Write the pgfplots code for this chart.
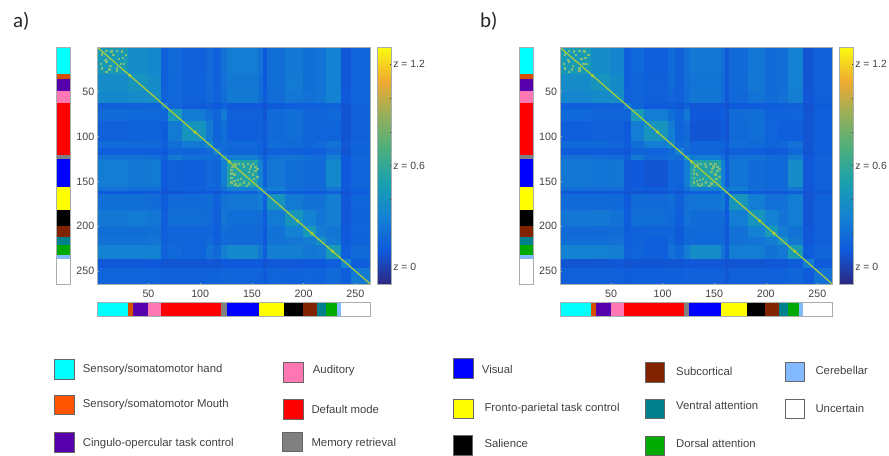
\documentclass[border=0pt]{standalone}
\usepackage{fontspec}
\setmainfont{Liberation Sans}
\newfontfamily\panelfont{Carlito}
\usepackage{pgfplots}
\pgfplotsset{compat=1.18}
\definecolor{nHand}{RGB}{0,255,255}
\definecolor{nMouth}{RGB}{214,80,0}
\definecolor{nMouthL}{RGB}{255,85,0}
\definecolor{nCO}{RGB}{85,0,170}
\definecolor{nAud}{RGB}{255,120,180}
\definecolor{nDMN}{RGB}{255,0,0}
\definecolor{nMem}{RGB}{128,128,128}
\definecolor{nVis}{RGB}{0,0,255}
\definecolor{nFP}{RGB}{255,255,0}
\definecolor{nSal}{RGB}{0,0,0}
\definecolor{nSub}{RGB}{130,35,0}
\definecolor{nVA}{RGB}{0,128,140}
\definecolor{nDA}{RGB}{0,170,0}
\definecolor{nCer}{RGB}{130,185,255}
\definecolor{nUnc}{RGB}{255,255,255}
\definecolor{framegray}{RGB}{165,175,175}
\definecolor{txt}{RGB}{65,65,65}
\definecolor{speck}{RGB}{125,190,120}
\definecolor{diag}{RGB}{172,205,55}
\def\xs{0.5,30.5,49.5,62.5,69.5,82.5,105.5,112.5,120.5,126.5,156.5,160.5,164.5,182.5,199.5,212.5,221.5,236.5,246.5,264.5}
\newcommand\mrow[2]{\foreach \xx [count=\i from 0] in \xs {\pgfmathtruncatemacro\j{min(\i,18)}\pgfmathsetmacro\vv{{#2}[\j]}\xdef\coordsbuf{\coordsbuf (\xx,#1) [\vv]}}}
% panel a: one row for each band of nodes, z values
\gdef\coordsbuf{}
\mrow{0.5}{.46,.36,.33,.13,.18,.13,.18,.14,.22,.27,.22,.10,.20,.25,.20,.22,.30,.09,.15}
\mrow{30.5}{.36,.42,.36,.13,.17,.14,.18,.14,.21,.25,.20,.10,.20,.26,.20,.22,.30,.09,.15}
\mrow{49.5}{.33,.36,.38,.14,.17,.14,.17,.14,.20,.26,.20,.10,.19,.24,.21,.23,.30,.10,.15}
\mrow{62.5}{.13,.13,.14,.28,.16,.11,.12,.10,.14,.10,.10,.07,.11,.12,.12,.13,.14,.08,.13}
\mrow{69.5}{.18,.17,.17,.16,.45,.26,.20,.16,.26,.13,.14,.08,.18,.20,.16,.16,.17,.08,.13}
\mrow{82.5}{.13,.14,.14,.11,.26,.42,.26,.15,.20,.12,.13,.09,.18,.20,.16,.15,.15,.08,.13}
\mrow{105.5}{.18,.18,.17,.12,.20,.26,.35,.18,.20,.17,.15,.10,.20,.18,.16,.18,.22,.09,.15}
\mrow{112.5}{.12,.12,.12,.10,.16,.15,.18,.30,.18,.16,.14,.08,.14,.13,.12,.12,.18,.08,.14}
\mrow{120.5}{.22,.21,.20,.14,.26,.20,.20,.18,.42,.28,.22,.12,.22,.23,.20,.18,.28,.10,.16}
\mrow{126.5}{.27,.25,.26,.10,.13,.12,.17,.16,.28,.54,.30,.13,.24,.20,.18,.18,.34,.10,.15}
\mrow{156.5}{.22,.20,.20,.10,.14,.13,.15,.14,.22,.30,.42,.22,.28,.20,.18,.18,.24,.10,.14}
\mrow{160.5}{.10,.10,.10,.07,.08,.09,.10,.08,.12,.13,.22,.30,.12,.11,.10,.10,.12,.07,.10}
\mrow{164.5}{.20,.20,.19,.11,.18,.18,.20,.14,.22,.24,.28,.12,.42,.26,.22,.22,.28,.09,.15}
\mrow{182.5}{.25,.26,.24,.12,.20,.20,.18,.13,.23,.20,.20,.11,.26,.42,.30,.24,.28,.09,.14}
\mrow{199.5}{.20,.20,.21,.12,.16,.16,.16,.12,.20,.18,.18,.10,.22,.30,.45,.27,.24,.10,.15}
\mrow{212.5}{.22,.22,.23,.13,.16,.15,.18,.12,.18,.18,.18,.10,.22,.24,.27,.40,.26,.10,.14}
\mrow{221.5}{.30,.30,.30,.14,.17,.15,.22,.18,.28,.34,.24,.12,.28,.28,.24,.26,.46,.12,.18}
\mrow{236.5}{.09,.09,.10,.08,.08,.08,.09,.08,.10,.10,.10,.07,.09,.09,.10,.10,.12,.30,.12}
\mrow{246.5}{.15,.15,.15,.13,.13,.13,.15,.14,.16,.15,.14,.10,.15,.14,.15,.14,.18,.12,.26}
\mrow{264.5}{.15,.15,.15,.13,.13,.13,.15,.14,.16,.15,.14,.10,.15,.14,.15,.14,.18,.12,.26}
\global\let\coordsA\coordsbuf
% panel b
\gdef\coordsbuf{}
\mrow{0.5}{.46,.36,.32,.12,.17,.12,.17,.13,.21,.25,.20,.09,.18,.24,.18,.20,.30,.08,.13}
\mrow{30.5}{.36,.42,.35,.12,.16,.13,.17,.13,.20,.23,.19,.09,.18,.25,.18,.20,.29,.08,.13}
\mrow{49.5}{.32,.35,.38,.13,.16,.13,.16,.13,.19,.24,.19,.09,.17,.22,.19,.21,.28,.09,.13}
\mrow{62.5}{.12,.12,.13,.27,.15,.10,.11,.09,.13,.09,.09,.07,.10,.11,.11,.12,.13,.07,.11}
\mrow{69.5}{.17,.16,.16,.15,.45,.27,.20,.15,.26,.10,.12,.08,.19,.20,.14,.14,.15,.08,.12}
\mrow{82.5}{.12,.13,.13,.10,.27,.42,.27,.15,.18,.08,.11,.08,.18,.20,.15,.12,.12,.08,.12}
\mrow{105.5}{.17,.17,.16,.11,.20,.27,.35,.18,.20,.16,.15,.10,.20,.18,.15,.17,.21,.08,.13}
\mrow{112.5}{.11,.11,.11,.09,.15,.15,.18,.30,.18,.15,.13,.08,.13,.12,.11,.11,.17,.08,.12}
\mrow{120.5}{.21,.20,.19,.13,.26,.18,.20,.18,.42,.27,.21,.11,.21,.22,.18,.17,.27,.09,.14}
\mrow{126.5}{.25,.23,.24,.09,.10,.08,.16,.15,.27,.54,.30,.12,.23,.19,.17,.17,.36,.09,.13}
\mrow{156.5}{.20,.19,.19,.09,.12,.11,.15,.13,.21,.30,.42,.22,.27,.19,.17,.17,.23,.09,.13}
\mrow{160.5}{.09,.09,.09,.07,.08,.08,.10,.08,.11,.12,.22,.30,.11,.10,.09,.09,.11,.07,.09}
\mrow{164.5}{.18,.18,.17,.10,.19,.18,.20,.13,.21,.23,.27,.11,.42,.27,.21,.21,.27,.08,.13}
\mrow{182.5}{.24,.25,.22,.11,.20,.20,.18,.12,.22,.19,.19,.10,.27,.42,.30,.23,.27,.08,.13}
\mrow{199.5}{.18,.18,.19,.11,.14,.15,.15,.11,.18,.17,.17,.09,.21,.30,.45,.27,.22,.09,.13}
\mrow{212.5}{.20,.20,.21,.12,.14,.12,.17,.11,.17,.17,.17,.09,.21,.23,.27,.40,.25,.09,.13}
\mrow{221.5}{.30,.29,.28,.13,.15,.12,.21,.17,.27,.36,.23,.11,.27,.27,.22,.25,.46,.11,.16}
\mrow{236.5}{.08,.08,.09,.07,.08,.08,.08,.08,.09,.09,.09,.07,.08,.08,.09,.09,.11,.28,.11}
\mrow{246.5}{.13,.13,.13,.11,.12,.12,.13,.12,.14,.13,.13,.09,.13,.13,.13,.13,.16,.11,.22}
\mrow{264.5}{.13,.13,.13,.11,.12,.12,.13,.12,.14,.13,.13,.09,.13,.13,.13,.13,.16,.11,.22}
\global\let\coordsB\coordsbuf
% speckled nodes inside the hand and visual blocks and bright spots on the diagonal
\def\specks{(5,8)(9,4)(14,5)(8,14)(19,4)(4,19)(24,5)(5,24)(13,21)(21,13)(25,12)(12,25)(19,26)(26,19)(28,9)(9,28)(16,9)(9,16)(23,19)(19,23)
(131,134)(134,131)(137,130)(130,137)(141,130)(130,141)(146,130)(130,146)(151,130)(130,151)(153,134)(134,153)(148,136)(136,148)(133,142)(142,133)(133,149)(149,133)(139,147)(147,139)(142,151)(151,142)(147,152)(152,147)(138,153)(153,138)(136,155)(155,136)(145,155)(155,145)}
\def\spots{(32,32)(95,95)(128,128)(194,194)(208,208)(228,228)}
\pgfplotsset{
  colormap={parula}{rgb255=(45,40,130) rgb255=(15,90,220) rgb255=(20,130,210) rgb255=(25,160,175) rgb255=(75,175,125) rgb255=(150,175,90) rgb255=(240,170,50) rgb255=(250,250,15)},
  every axis/.append style={scale only axis, axis line style={framegray,line width=0.6pt}},
  barframe/.style={xmin=0.5,xmax=264.5,ymin=0,ymax=1,ticks=none,axis on top},
}
\newcommand\hband[3]{\addplot[fill=#1,draw=none,forget plot] coordinates {(#2,0)(#3,0)(#3,1)(#2,1)} --cycle;}
\newcommand\vband[3]{\addplot[fill=#1,draw=none,forget plot] coordinates {(0,#2)(1,#2)(1,#3)(0,#3)} --cycle;}
\newcommand\bands[1]{#1{nHand}{0.5}{30.5}#1{nMouth}{30.5}{35.5}#1{nCO}{35.5}{49.5}#1{nAud}{49.5}{62.5}#1{nDMN}{62.5}{120.5}#1{nMem}{120.5}{125.5}#1{nVis}{125.5}{156.5}#1{nFP}{156.5}{181.5}#1{nSal}{181.5}{199.5}#1{nSub}{199.5}{212.5}#1{nVA}{212.5}{221.5}#1{nDA}{221.5}{232.5}#1{nCer}{232.5}{236.5}#1{nUnc}{236.5}{264.5}}
\newcommand\panel[3]{%
 \begin{axis}[at={(#1bp,172bp)},anchor=south west,width=#2bp,height=236.7bp,
   xmin=0.5,xmax=264.5,ymin=0.5,ymax=264.5,y dir=reverse,axis on top,
   xtick={50,100,150,200,250},xticklabels={50,100,150,200,250},
   ytick={50,100,150,200,250},yticklabels={50,100,150,200,250},
   tick pos=left,tick align=inside,major tick length=1.5bp,tick style={framegray,line width=0.4pt},
   tick label style={font=\fontsize{10.7}{12}\selectfont,text=txt},
   xticklabel style={yshift=-3bp},yticklabel style={xshift=0.5bp},
   point meta min=-0.1,point meta max=1.3,
   colorbar,
   colorbar style={at={(1.0256,1)},anchor=north west,width=14bp,height=236.7bp,
     ytick={0,0.2,0.4,0.6,0.8,1.0,1.2},yticklabels={z = 0,,,z = 0.6,,,z = 1.2},
     tick pos=right,tick align=inside,major tick length=1.5bp,
     tick style={color=txt,line width=0.4pt},
     yticklabel style={font=\fontsize{10.45}{12}\selectfont,text=txt,xshift=-1.5bp},
     axis line style={framegray,line width=0.6pt}},
 ]
 \edef\tmp{\noexpand\addplot[surf,shader=flat corner,mesh/cols=20,point meta=explicit,forget plot] coordinates {#3};}\tmp
 \edef\tmp{\noexpand\addplot[only marks,mark=square*,mark size=0.7bp,color=speck,forget plot] coordinates {\specks};}\tmp
 \addplot[diag,line width=1.2bp,forget plot] coordinates {(0.5,0.5)(264.5,264.5)};
 \edef\tmp{\noexpand\addplot[only marks,mark=*,mark size=1.5bp,color=diag,forget plot] coordinates {\spots};}\tmp
 \end{axis}
 \begin{axis}[at={(#1bp-40.6bp,172bp)},anchor=south west,width=14bp,height=236.7bp,barframe,xmin=0,xmax=1,ymin=0.5,ymax=264.5,y dir=reverse]
 \bands\vband
 \end{axis}
 \begin{axis}[at={(#1bp,140bp)},anchor=south west,width=#2bp,height=13.3bp,barframe]
 \bands\hband
 \end{axis}}
\newcommand\swatch[5]{\fill[#1,draw=#5,line width=0.8bp] (#2bp,{456bp-#3bp}) rectangle (#2bp+19.7bp,{456bp-#4bp});}
\newcommand\ltext[3]{\node[anchor=west,inner sep=0pt,text=txt,font=\fontsize{11.4}{13}\selectfont] at (#1bp,{456bp-#2bp}) {#3};}
\begin{document}
\begin{tikzpicture}
\path[use as bounding box] (0,0) rectangle (889bp,456bp);
\panel{97.3}{273}{\coordsA}
\panel{560}{272.3}{\coordsB}
\node[anchor=base west,inner sep=0pt,font=\panelfont\fontsize{21}{24}\selectfont,text=black!85] at (13bp,428bp) {a)};
\node[anchor=base west,inner sep=0pt,font=\panelfont\fontsize{21}{24}\selectfont,text=black!85] at (480bp,428bp) {b)};
\swatch{nHand}{54.7}{359.3}{379.3}{black!60}\ltext{82.7}{369.3}{Sensory/somatomotor hand}
\swatch{nMouthL}{54.7}{395}{414.3}{black!60}\ltext{82.7}{405}{Sensory/somatomotor Mouth}
\swatch{nCO}{54.7}{432.7}{452.3}{black!60}\ltext{82.7}{443.3}{Cingulo-opercular task control}
\swatch{nAud}{283.7}{362.3}{382}{black!60}\ltext{312.7}{370.7}{Auditory}
\swatch{nDMN}{283.7}{399.3}{419}{black!60}\ltext{311.3}{409}{Default mode}
\swatch{nMem}{282.7}{432.3}{451.7}{black!60}\ltext{311.3}{443.7}{Memory retrieval}
\swatch{nVis}{453.7}{358.3}{378.3}{black!60}\ltext{481.7}{369.3}{Visual}
\swatch{nFP}{453.7}{399.3}{418.7}{black!60}\ltext{484.3}{408.7}{Fronto-parietal task control}
\swatch{nSal}{453}{435.3}{455}{black!60}\ltext{484.3}{443.3}{Salience}
\swatch{nSub}{645}{362.3}{382}{black!60}\ltext{676}{371.7}{Subcortical}
\swatch{nVA}{645}{399.3}{418.7}{black!60}\ltext{676}{405.7}{Ventral attention}
\swatch{nDA}{645}{436}{455.7}{black!60}\ltext{676}{443.3}{Dorsal attention}
\swatch{nCer}{785}{362.3}{381.7}{black!60}\ltext{815.3}{370.7}{Cerebellar}
\swatch{nUnc}{785}{399.3}{418.7}{black!60}\ltext{815.3}{408.7}{Uncertain}
\end{tikzpicture}
\end{document}
